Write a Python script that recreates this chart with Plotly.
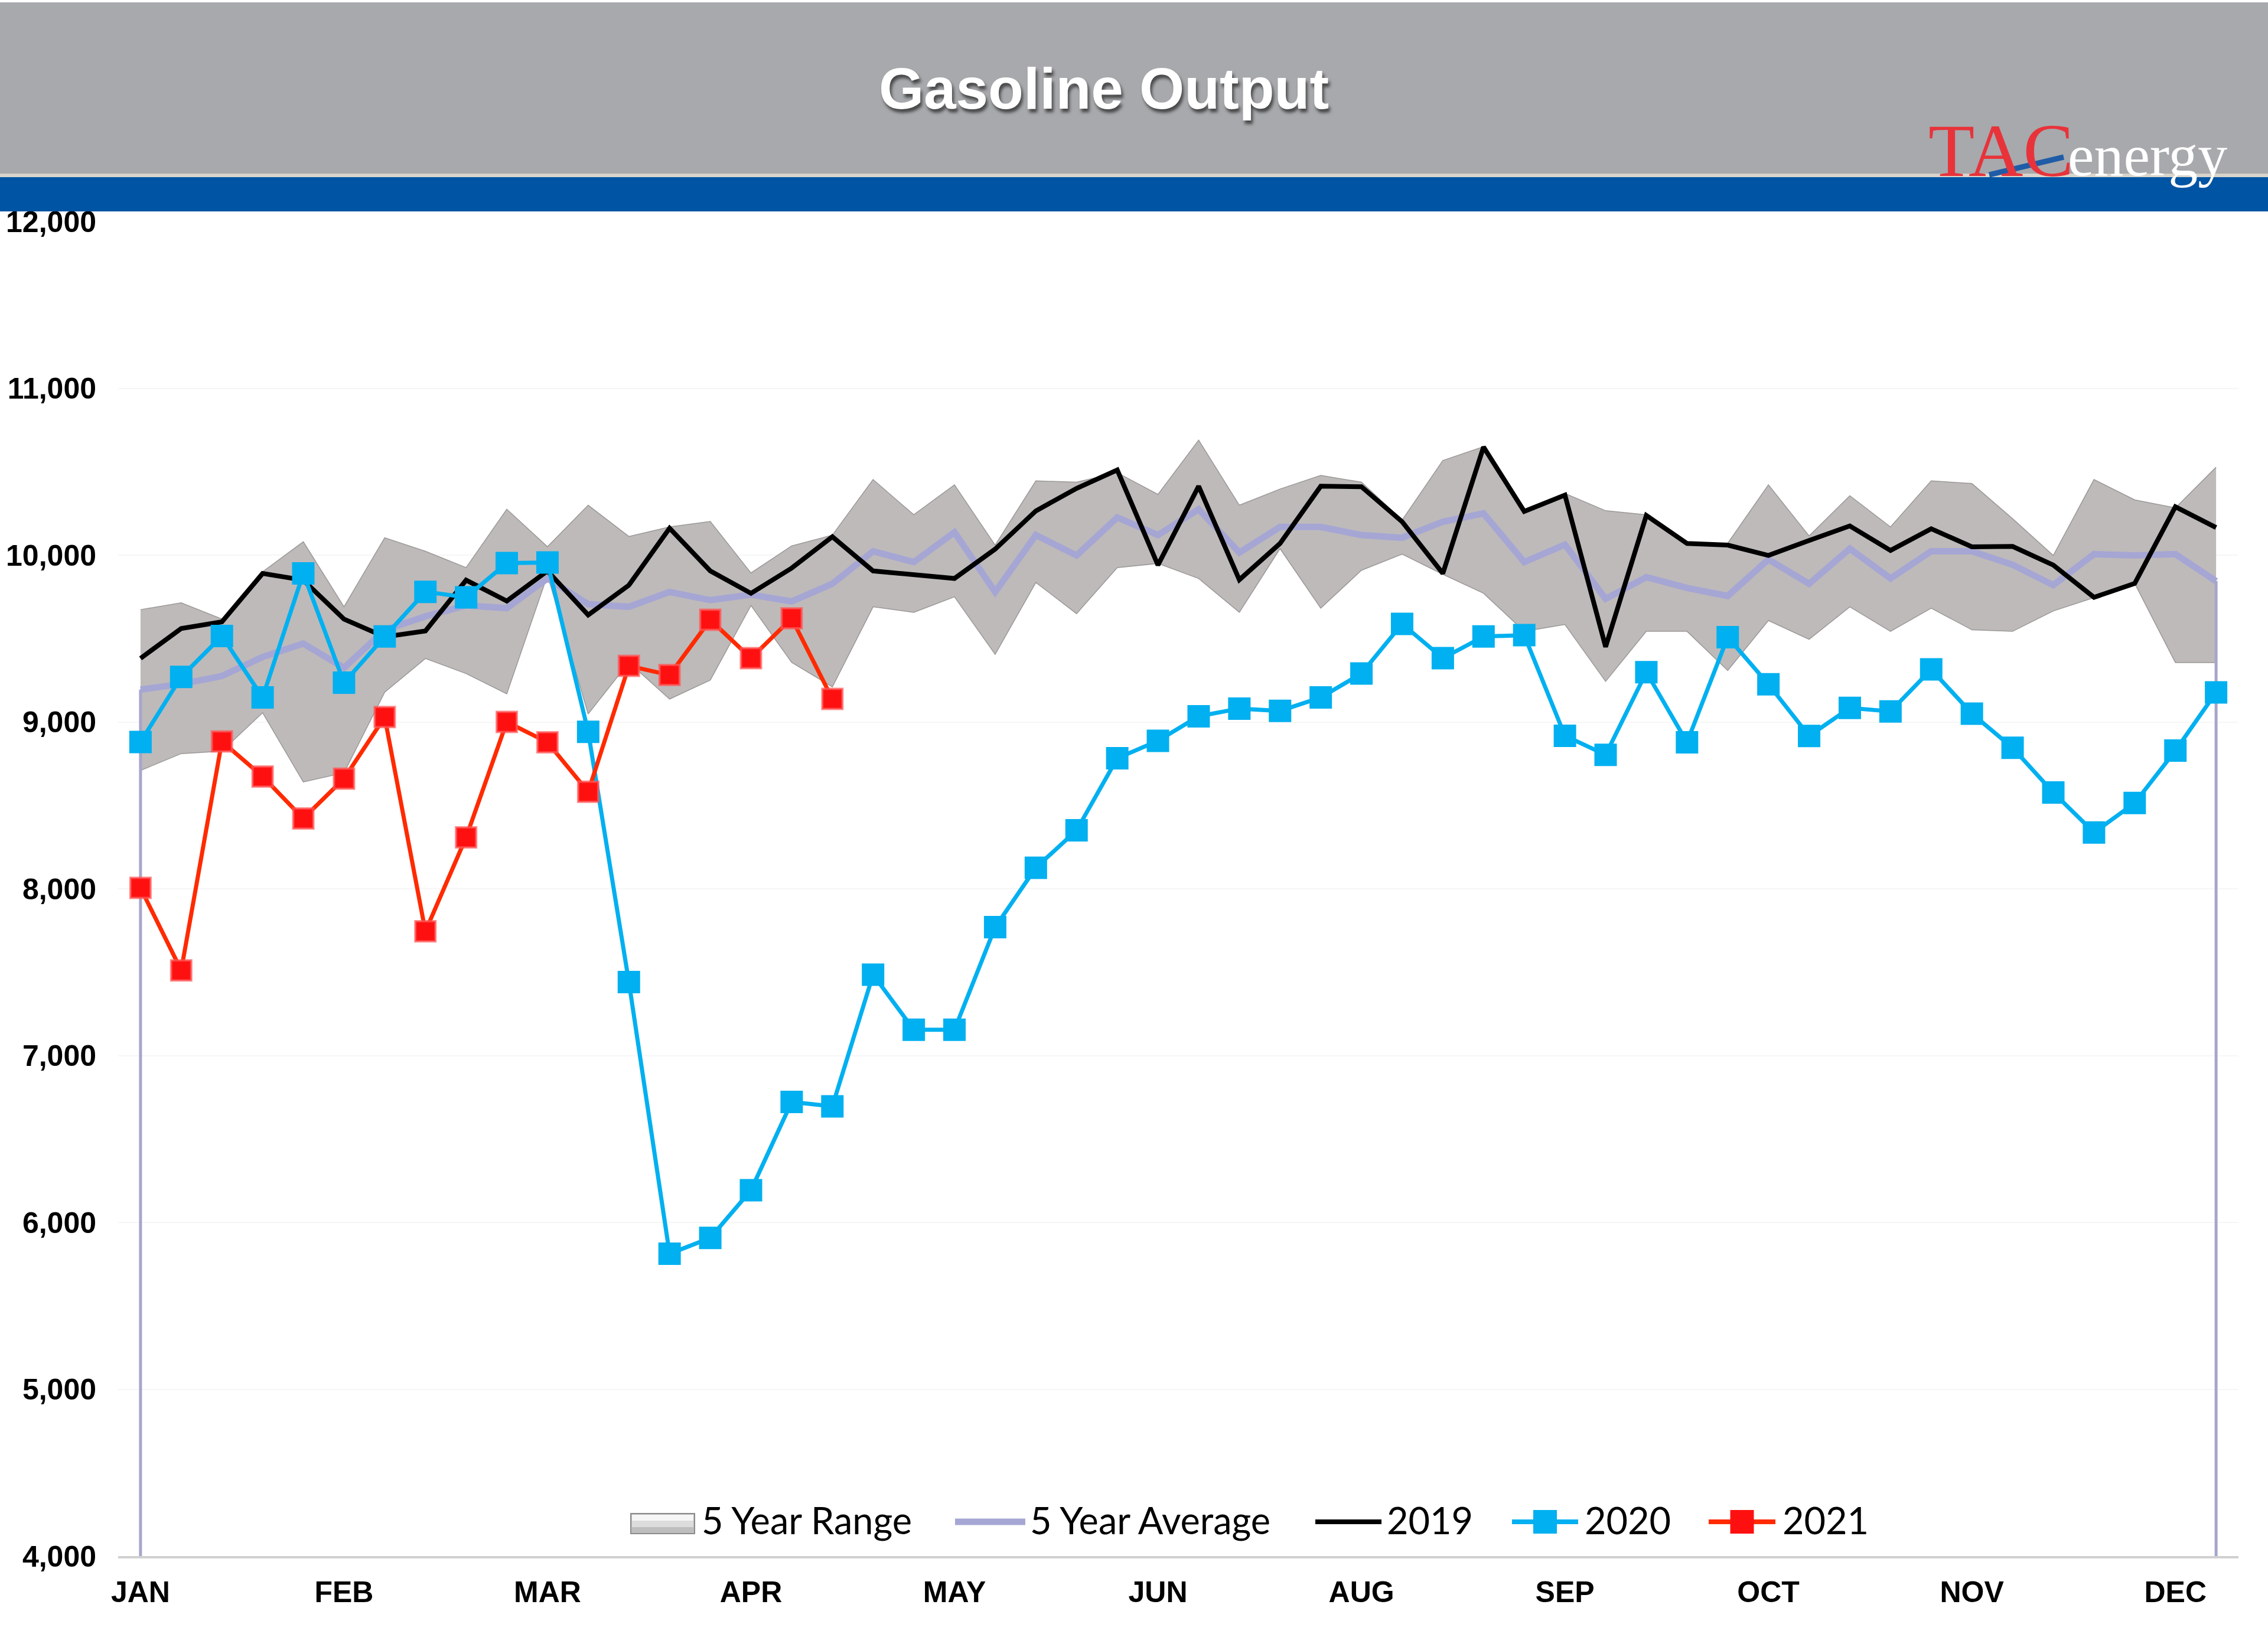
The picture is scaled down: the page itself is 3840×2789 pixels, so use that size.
import plotly.graph_objects as go

# ---------------- data ----------------
weeks = list(range(52))
month_ticks = [0, 5, 10, 15, 20, 25, 30, 35, 40, 45, 50]
month_labels = ["JAN", "FEB", "MAR", "APR", "MAY", "JUN", "AUG", "SEP", "OCT", "NOV", "DEC"]
y_ticks = [4000, 5000, 6000, 7000, 8000, 9000, 10000, 11000, 12000]

range_high = [9673, 9714, 9617, 9900, 10080, 9690, 10104, 10023, 9925, 10275,
              10050, 10299, 10112, 10169, 10202, 9893, 10055, 10120, 10453, 10242,
              10421, 10060, 10445, 10437, 10494, 10364, 10689, 10299, 10396, 10478,
              10437, 10210, 10567, 10650, 10270, 10370, 10266, 10242, 10072, 10071,
              10421, 10115, 10356, 10169, 10445, 10429, 10218, 9998, 10453, 10331,
              10283, 10527]
range_low = [8709, 8810, 8825, 9055, 8640, 8695, 9178, 9380, 9290, 9168,
             9880, 9048, 9357, 9137, 9251, 9698, 9357, 9210, 9690, 9657,
             9750, 9405, 9836, 9649, 9925, 9950, 9860, 9657, 10039, 9682,
             9909, 10006, 9885, 9771, 9543, 9584, 9243, 9543, 9543, 9308,
             9608, 9495, 9690, 9543, 9682, 9552, 9543, 9665, 9745, 9830,
             9356, 9356]
avg5 = [9194, 9227, 9275, 9389, 9470, 9324, 9551, 9633, 9698, 9682,
        9860, 9706, 9690, 9779, 9730, 9763, 9722, 9828, 10023, 9958,
        10137, 9779, 10120, 9998, 10226, 10120, 10275, 10015, 10169, 10169,
        10120, 10104, 10200, 10250, 9958, 10063, 9738, 9868, 9803, 9755,
        9974, 9828, 10039, 9860, 10023, 10023, 9942, 9820, 10006, 9998,
        10006, 9844]
y2019 = [9381, 9560, 9600, 9890, 9850, 9616, 9510, 9545, 9850, 9725,
         9905, 9641, 9820, 10161, 9905, 9771, 9922, 10110, 9905, 9880,
         9860, 10036, 10265, 10400, 10510, 9940, 10413, 9852, 10070, 10413,
         10410, 10200, 9890, 10648, 10262, 10360, 9450, 10238, 10070, 10060,
         9998, 10088, 10175, 10028, 10158, 10050, 10052, 9940, 9747, 9830,
         10290, 10165]
y2020 = [8880, 9270, 9515, 9147, 9890, 9235, 9512, 9780, 9747, 9952,
         9956, 8941, 7441, 5812, 5907, 6193, 6722, 6696, 7485, 7155,
         7155, 7770, 8126, 8350, 8782, 8887, 9034, 9080, 9066, 9147,
         9290, 9588, 9382, 9512, 9520, 8917, 8803, 9298, 8878, 9508,
         9226, 8916, 9084, 9063, 9315, 9050, 8845, 8577, 8337, 8514,
         8828, 9177]
y2021 = [8005, 7511, 8883, 8673, 8421, 8660, 9029, 7745, 8308, 9000,
         8878, 8581, 9336, 9281, 9612, 9382, 9621, 9138]

legend_names = ["5 Year Range", "5 Year Average", "2019", "2020", "2021"]

# ---------------- styles ----------------
FONT_AX = "Liberation Sans"
C_BAND = "#BEBABA"
C_BAND_EDGE = "#9C9898"
C_AVG = "#A6A6D4"
C_2019 = "#000000"
C_2020 = "#00B0F0"
C_2021_LINE = "#FF2A00"
C_2021_MK = "#FF1010"

fig = go.Figure()

# 5-year range band
fig.add_trace(go.Scatter(x=weeks, y=range_low, mode="lines",
                         line=dict(color=C_BAND_EDGE, width=1.5),
                         showlegend=False, hoverinfo="skip"))
fig.add_trace(go.Scatter(x=weeks, y=range_high, mode="lines", name=legend_names[0],
                         line=dict(color=C_BAND_EDGE, width=1.5),
                         fill="tonexty", fillcolor=C_BAND, showlegend=False))

# vertical edge drops of the average series (Excel artefact)
fig.add_trace(go.Scatter(x=[weeks[0], weeks[0]], y=[y_ticks[0], avg5[0]], mode="lines",
                         line=dict(color="#A6A6CA", width=5), showlegend=False, hoverinfo="skip"))
fig.add_trace(go.Scatter(x=[weeks[-1], weeks[-1]], y=[y_ticks[0], avg5[-1]], mode="lines",
                         line=dict(color="#A6A6CA", width=5), showlegend=False, hoverinfo="skip"))

fig.add_trace(go.Scatter(x=weeks, y=avg5, mode="lines", name=legend_names[1],
                         line=dict(color=C_AVG, width=11), showlegend=False))
fig.add_trace(go.Scatter(x=weeks, y=y2019, mode="lines", name=legend_names[2],
                         line=dict(color=C_2019, width=8), showlegend=False))
fig.add_trace(go.Scatter(x=weeks, y=y2020, mode="lines+markers", name=legend_names[3],
                         line=dict(color=C_2020, width=7),
                         marker=dict(symbol="square", size=38, color=C_2020), showlegend=False))
fig.add_trace(go.Scatter(x=weeks[:len(y2021)], y=y2021, mode="lines+markers", name=legend_names[4],
                         line=dict(color=C_2021_LINE, width=7),
                         marker=dict(symbol="square", size=34, color=C_2021_MK,
                                     line=dict(color="rgba(255,90,90,0.7)", width=4)),
                         showlegend=False))

W, H = 3840, 2789
L, R, T, B = 200, 50, 375, 154
pw, ph = W - L - R, H - T - B


def px(X):
    return (X - L) / pw


def py(Y):
    return (H - B - Y) / ph


shapes = [
    dict(type="rect", xref="paper", yref="paper", x0=px(0), x1=px(W), y0=py(296), y1=py(4),
         fillcolor="#A7A9AC", line=dict(width=0), layer="above"),
    dict(type="rect", xref="paper", yref="paper", x0=px(0), x1=px(W), y0=py(300), y1=py(294),
         fillcolor="#D9D4CB", line=dict(width=0), layer="above"),
    dict(type="rect", xref="paper", yref="paper", x0=px(0), x1=px(W), y0=py(358), y1=py(300),
         fillcolor="#0054A4", line=dict(width=0), layer="above"),
    dict(type="line", xref="paper", yref="paper", x0=px(3368), y0=py(296),
         x1=px(3494), y1=py(266), line=dict(color="#1F5CA8", width=9), layer="above"),
]

annotations = [
    dict(text="TAC", xref="paper", yref="paper", x=px(3388), y=py(255),
         xanchor="center", yanchor="middle", showarrow=False,
         font=dict(family="Liberation Serif", size=128, color="#E8333A")),
    dict(text="energy", xref="paper", yref="paper", x=px(3636), y=py(264),
         xanchor="center", yanchor="middle", showarrow=False,
         font=dict(family="Liberation Serif", size=100, color="#FFFFFF")),
]

# ---------------- custom legend (wide Excel-like keys) ----------------
LEG_Y = 2577
leg_font = dict(family="Lato", size=63, color="#000000")
key_x = [(1068, 1176), (1617, 1736), (2227, 2339), (2560, 2672), (2893, 3006)]
txt_x = [1186, 1742, 2346, 2681, 3016]

bx0, bx1 = key_x[0]
shapes += [
    dict(type="rect", xref="paper", yref="paper", x0=px(bx0), x1=px(bx1), y0=py(2597), y1=py(2563),
         fillcolor="#BEBEBE", line=dict(color="#8C8C8C", width=2), layer="above"),
    dict(type="rect", xref="paper", yref="paper", x0=px(bx0 + 2), x1=px(bx1 - 2), y0=py(2586), y1=py(2565),
         fillcolor="#DCDCDC", line=dict(width=0), layer="above"),
    dict(type="rect", xref="paper", yref="paper", x0=px(bx0 + 2), x1=px(bx1 - 2), y0=py(2575), y1=py(2565),
         fillcolor="#F6F6F6", line=dict(width=0), layer="above"),
]
key_styles = [None, (C_AVG, 11), (C_2019, 8), (C_2020, 8), (C_2021_LINE, 8)]
for i in range(1, 5):
    x0, x1 = key_x[i]
    col, wd = key_styles[i]
    shapes.append(dict(type="line", xref="paper", yref="paper", x0=px(x0), x1=px(x1),
                       y0=py(LEG_Y), y1=py(LEG_Y), line=dict(color=col, width=wd), layer="above"))
for i, col in [(3, C_2020), (4, C_2021_MK)]:
    cx = sum(key_x[i]) / 2
    shapes.append(dict(type="rect", xref="paper", yref="paper", x0=px(cx - 20), x1=px(cx + 20),
                       y0=py(LEG_Y + 20), y1=py(LEG_Y - 20), fillcolor=col,
                       line=dict(width=0), layer="above"))
for i, name in enumerate(legend_names):
    annotations.append(dict(text=name, xref="paper", yref="paper", x=px(txt_x[i]), y=py(LEG_Y - 4),
                            xanchor="left", yanchor="middle", showarrow=False, font=leg_font))

fig.update_layout(
    width=W, height=H,
    margin=dict(l=L, r=R, t=T, b=B, autoexpand=False),
    paper_bgcolor="#FFFFFF", plot_bgcolor="#FFFFFF",
    title=dict(text="<b>Gasoline Output</b>", x=1869 / W, xref="container", xanchor="center",
               y=1 - 150 / H, yref="container", yanchor="middle", automargin=False,
               font=dict(family=FONT_AX, size=98, color="#FFFFFF",
                         shadow="3px 6px 5px rgba(40,40,40,0.75)")),
    xaxis=dict(range=[-0.55, 51.55], tickvals=month_ticks, ticktext=month_labels,
               automargin=False,
               showgrid=False, zeroline=False, showline=True, linecolor="#D0D0D0", linewidth=4,
               ticks="outside", ticklen=14, tickcolor="rgba(0,0,0,0)",
               tickfont=dict(family=FONT_AX, size=50, color="#000000", weight="bold")),
    yaxis=dict(range=[y_ticks[0], y_ticks[-1]], tickvals=y_ticks, tickformat=",",
               automargin=False,
               showgrid=True, gridcolor="#F6F6F6", gridwidth=2, zeroline=False, showline=False,
               ticks="outside", ticklen=26, tickcolor="rgba(0,0,0,0)",
               tickfont=dict(family=FONT_AX, size=50, color="#000000", weight="bold")),
    shapes=shapes,
    annotations=annotations,
    showlegend=False,
)

fig.write_html("out.html", config={"displayModeBar": False},
               post_script="document.body.style.margin='0';document.body.style.padding='0';")
